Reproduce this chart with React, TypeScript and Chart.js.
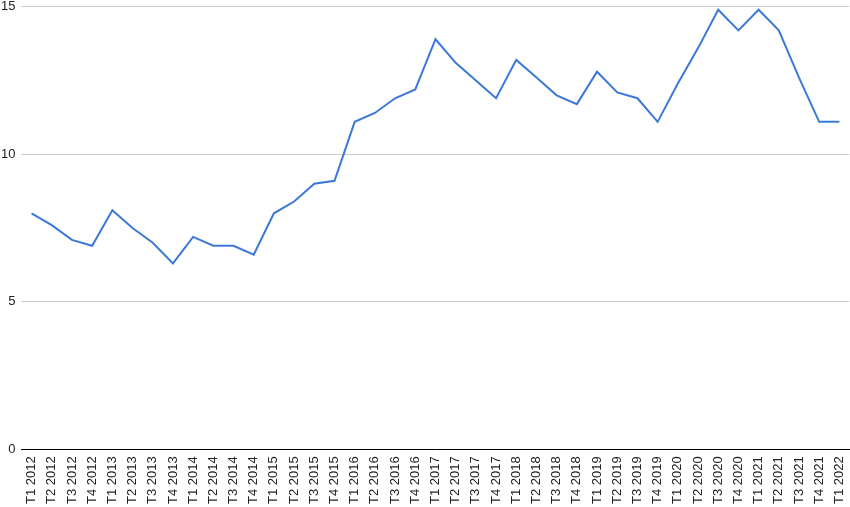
import React, { useEffect, useRef } from "react";
import { Chart, registerables } from "chart.js";

Chart.register(...registerables);

const quarters = ["T1", "T2", "T3", "T4"];
const categories: string[] = [];
for (let y = 2012; y <= 2021; y++) for (const q of quarters) categories.push(`${q} ${y}`);
categories.push("T1 2022");

const values = [
  8.0, 7.6, 7.1, 6.9,
  8.1, 7.5, 7.0, 6.3,
  7.2, 6.9, 6.9, 6.6,
  8.0, 8.4, 9.0, 9.1,
  11.1, 11.4, 11.9, 12.2,
  13.9, 13.1, 12.5, 11.9,
  13.2, 12.6, 12.0, 11.7,
  12.8, 12.1, 11.9, 11.1,
  12.4, 13.6, 14.9, 14.2,
  14.9, 14.2, 12.6, 11.1,
  11.1,
];

const yTicks = [0, 5, 10, 15];

const CW = 867;
const CH = 520;

export default function App() {
  const ref = useRef<HTMLCanvasElement>(null);
  useEffect(() => {
    document.body.style.margin = "0";
    const ctx = ref.current!;
    const chart = new Chart(ctx, {
      type: "line",
      data: {
        labels: categories,
        datasets: [
          {
            data: values,
            borderColor: "#3c78d8",
            borderWidth: 2,
            pointRadius: 0,
            tension: 0,
            fill: false,
          },
        ],
      },
      options: {
        animation: false,
        responsive: false,
        maintainAspectRatio: false,
        layout: { padding: { top: 0, right: 0, left: 0, bottom: 2 } },
        plugins: { legend: { display: false }, tooltip: { enabled: false } },
        scales: {
          x: {
            offset: true,
            grid: { display: false, drawTicks: false },
            border: { display: true, color: "#000000", width: 1 },
            ticks: {
              autoSkip: false,
              minRotation: 90,
              maxRotation: 90,
              padding: 7,
              color: "#222222",
              font: { family: "'Liberation Sans', Arial, sans-serif", size: 13 },
            },
          },
          y: {
            min: 0,
            max: 15,
            afterBuildTicks: (axis: any) => {
              axis.ticks = yTicks.map((v) => ({ value: v }));
            },
            grid: { color: "#cccccc", drawTicks: false, lineWidth: 1 },
            border: { display: false },
            ticks: {
              padding: 6,
              color: "#222222",
              font: { family: "'Liberation Sans', Arial, sans-serif", size: 13 },
            },
          },
        },
      },
    });
    return () => chart.destroy();
  }, []);
  return (
    <div style={{ position: "absolute", left: 0, top: 0, width: 850, height: 507, overflow: "hidden" }}>
      <canvas
        ref={ref}
        width={CW}
        height={CH}
        style={{ position: "absolute", left: -5, top: -7, width: CW, height: CH }}
      />
    </div>
  );
}
